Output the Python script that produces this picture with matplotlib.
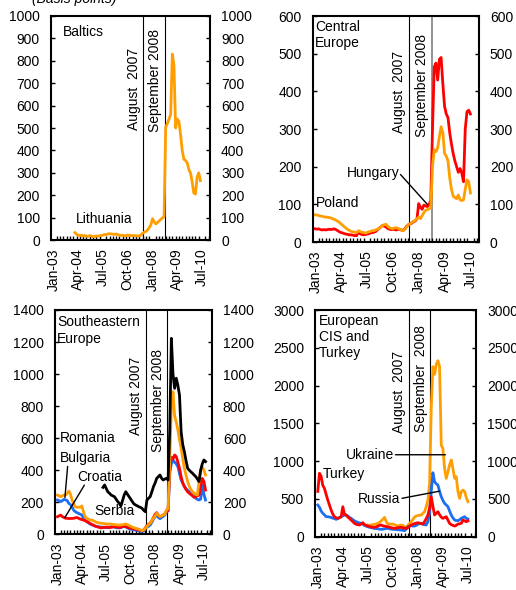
import numpy as np
import pandas as pd
import matplotlib
matplotlib.use("Agg")
import matplotlib.pyplot as plt

plt.rcParams['font.family'] = ['Liberation Sans', 'DejaVu Sans']
plt.rcParams['font.size'] = 10

# --- Sovereign CDS spreads, monthly, basis points ---
month_labels = ['Jan-03', 'Apr-04', 'Jul-05', 'Oct-06', 'Jan-08', 'Apr-09', 'Jul-10']
event_months = ['Aug-07', 'Sep-08']

# Baltics
lithuania_start = 'Feb-04'
lithuania = [33, 25, 22, 20, 22, 18, 20, 17, 16, 20,
             18, 15, 16, 18, 17, 19, 20, 22, 24, 25,
             27, 28, 27, 26, 25, 27, 24, 22, 20, 21,
             19, 20, 22, 21, 19, 20, 20, 18, 19, 18,
             22, 30, 35, 38, 45, 55, 68, 95, 82, 72,
             78, 85, 92, 98, 105, 505, 520, 540, 560, 830,
             780, 500, 540, 530, 470, 400, 360, 355, 345, 315,
             300, 260, 210, 205, 280, 300, 265]

# Central Europe
central_start = 'Jan-03'
hungary = [35, 34, 35, 33, 32, 33, 32, 33, 34, 33,
           34, 35, 33, 30, 27, 25, 24, 22, 21, 20,
           19, 19, 18, 17, 17, 28, 22, 20, 19, 20,
           21, 22, 24, 25, 26, 28, 32, 36, 40, 44,
           42, 40, 36, 34, 33, 34, 33, 32, 34, 33,
           32, 31, 35, 42, 46, 48, 50, 54, 56, 62,
           102, 92, 87, 98, 96, 94, 100, 110, 300, 465,
           475, 430, 485, 490, 420, 360, 340, 330, 290, 260,
           235, 215, 200, 185, 195, 183, 160, 300, 346, 350,
           340]
poland = [72, 72, 70, 69, 68, 67, 66, 66, 65, 64,
          62, 60, 58, 55, 52, 48, 44, 40, 36, 33,
          30, 28, 27, 26, 25, 30, 28, 26, 25, 24,
          25, 27, 28, 30, 30, 32, 34, 36, 40, 44,
          46, 47, 42, 38, 36, 36, 37, 38, 36, 34,
          31, 30, 34, 40, 46, 48, 52, 55, 58, 62,
          66, 62, 70, 78, 84, 86, 88, 90, 200, 245,
          240, 250, 280, 306, 290, 235, 228, 215, 170, 140,
          122, 118, 115, 125, 112, 110, 112, 140, 165, 160,
          130]

# Southeastern Europe
southeast_start = 'Jan-03'
romania = [245, 240, 235, 240, 245, 245, 255, 270, 250, 214,
           190, 172, 168, 170, 168, 177, 140, 110, 100, 95,
           90, 89, 85, 80, 75, 72, 70, 69, 68, 66,
           65, 64, 64, 64, 62, 60, 60, 58, 58, 58,
           60, 62, 64, 60, 55, 50, 45, 41, 38, 35,
           32, 28, 23, 28, 37, 50, 60, 69, 85, 100,
           115, 131, 120, 110, 115, 120, 125, 152, 160, 450,
           800, 890, 740, 702, 651, 590, 537, 470, 412, 370,
           329, 300, 280, 266, 255, 250, 245, 330, 402, 420,
           400, 370]
bulgaria = [214, 210, 204, 210, 218, 215, 210, 193, 185, 170,
            150, 141, 135, 130, 125, 121, 100, 89, 80, 72,
            65, 60, 56, 52, 50, 48, 46, 45, 44, 43,
            42, 42, 45, 48, 46, 44, 42, 40, 40, 42,
            46, 48, 46, 40, 35, 32, 30, 28, 26, 24,
            22, 18, 16, 22, 35, 45, 50, 58, 75, 95,
            110, 120, 105, 98, 105, 112, 120, 141, 145, 380,
            440, 464, 450, 440, 422, 380, 339, 320, 300, 285,
            276, 265, 255, 245, 235, 225, 218, 214, 220, 307,
            250, 214]
croatia = [110, 115, 120, 110, 105, 100, 100, 98, 99, 99,
           100, 103, 105, 100, 95, 92, 89, 85, 80, 75,
           68, 62, 58, 52, 48, 45, 42, 40, 42, 44,
           45, 44, 42, 43, 46, 48, 46, 44, 42, 44,
           50, 52, 48, 44, 40, 38, 36, 34, 32, 30,
           28, 25, 22, 28, 40, 55, 62, 70, 85, 105,
           125, 135, 118, 110, 115, 120, 128, 145, 150, 420,
           480, 470, 495, 485, 450, 411, 360, 320, 297, 280,
           265, 256, 248, 240, 231, 235, 240, 245, 300, 349,
           330, 276]
serbia_start = 'May-05'
serbia = [293, 308, 285, 265, 256, 245, 240, 235, 220, 205,
          193, 177, 210, 245, 266, 250, 235, 220, 204, 190,
          183, 178, 172, 168, 162, 150, 141, 214, 225, 235,
          265, 297, 320, 349, 360, 370, 350, 339, 345, 349,
          339, 650, 1223, 1000, 911, 974, 930, 869, 640, 560,
          515, 460, 412, 400, 390, 381, 370, 360, 345, 329,
          400, 440, 464, 454]

# European CIS and Turkey
cis_start = 'Jan-03'
turkey = [600, 839, 800, 680, 640, 560, 485, 420, 353, 300,
          265, 250, 243, 250, 265, 397, 300, 287, 260, 243,
          220, 200, 177, 165, 160, 155, 170, 186, 160, 150,
          141, 135, 130, 125, 124, 130, 140, 150, 155, 145,
          140, 135, 133, 125, 120, 115, 110, 115, 120, 122,
          124, 118, 112, 110, 120, 140, 155, 165, 175, 180,
          186, 180, 172, 168, 200, 240, 287, 380, 530, 400,
          287, 310, 331, 290, 260, 243, 255, 265, 220, 177,
          160, 150, 141, 150, 168, 172, 177, 221, 210, 199,
          210]
russia = [420, 390, 340, 310, 290, 265, 265, 260, 256, 245,
          240, 230, 240, 255, 265, 275, 287, 287, 275, 255,
          243, 225, 210, 199, 190, 182, 177, 165, 150, 140,
          133, 125, 120, 115, 110, 108, 105, 100, 97, 100,
          105, 108, 110, 105, 100, 98, 97, 95, 92, 90,
          88, 85, 80, 100, 133, 140, 145, 141, 141, 150,
          165, 175, 177, 165, 160, 155, 200, 309, 600, 847,
          728, 700, 684, 600, 530, 480, 441, 420, 397, 340,
          287, 250, 221, 215, 212, 225, 243, 255, 265, 243,
          235]
ukraine_start = 'Jul-05'
ukraine = [155, 150, 155, 160, 165, 170, 177, 190, 210, 230,
           256, 200, 168, 170, 165, 168, 160, 150, 141, 150,
           155, 150, 130, 124, 150, 175, 199, 230, 260, 274,
           280, 285, 287, 310, 331, 400, 485, 700, 1700, 2250,
           2150, 2280, 2330, 2250, 1210, 1170, 900, 772, 860, 950,
           1015, 900, 772, 794, 600, 507, 596, 617, 600, 520,
           463]

ORANGE = '#FF9E00'
RED = '#FF0000'
BLUE = '#1C6EF2'
BLACK = '#000000'


def month_index(label):
    d = pd.to_datetime(label, format='%b-%y')
    return (d.year - 2003) * 12 + d.month - 1


def months(start, values):
    return month_index(start) + np.arange(len(values))


def setup(ax, ymax, ystep, event_text, event_y, sep_color='k'):
    ax.set_xlim(-1.5, 94.8)
    ax.set_ylim(0, ymax)
    ax.set_yticks(np.arange(0, ymax + 1, ystep))
    ax.set_xticks([month_index(l) for l in month_labels])
    ax.set_xticklabels(month_labels, rotation=90)
    ax.set_xticks(np.arange(0, 95, 2), minor=True)
    ax.tick_params(axis='x', which='major', length=0, pad=6)
    ax.tick_params(axis='x', which='minor', direction='in', length=3, width=1)
    ax.tick_params(axis='y', direction='in', length=3, width=1, pad=8,
                   right=True, labelright=True)
    for s in ax.spines.values():
        s.set_linewidth(1.5)
    # crisis markers
    for i, lab in enumerate(event_months):
        x = month_index(lab) - 0.5
        if i == 1 and sep_color != 'k':
            ax.axvline(x, color=sep_color, lw=1.2, zorder=1)
        else:
            ax.axvline(x, color='k', lw=0.8, zorder=1)
        ax.annotate(event_text[i], xy=(x, event_y[i]),
                    xycoords=('data', 'axes fraction'), xytext=(-2, 0),
                    textcoords='offset points', rotation=90,
                    ha='right', va='bottom')


def leader(ax, text, xy, xytext, ha, relpos):
    ax.annotate(text, xy=xy, xytext=xytext, ha=ha, va='center',
                arrowprops=dict(arrowstyle='-', color='k', lw=1,
                                relpos=relpos, patchA=None,
                                shrinkA=1, shrinkB=0))


fig = plt.figure(figsize=(5.16, 5.90), dpi=100)
fig.text(0.062, 1 - 3 / 590, '(Basis points)', style='italic', va='baseline')

# Baltics
ax1 = fig.add_axes([0.0988, 0.5932, 0.3081, 0.3797])
setup(ax1, 1000, 100, ['August  2007', 'September 2008'], [0.49, 0.48])
ax1.plot(months(lithuania_start, lithuania), lithuania, color=ORANGE, lw=2)
ax1.text(5.7, 929, 'Baltics', ha='left', va='center')
ax1.text(13.6, 96, 'Lithuania', ha='left', va='center')

# Central Europe
ax2 = fig.add_axes([0.606, 0.5898, 0.3217, 0.383])
setup(ax2, 600, 100, ['August  2007', 'September 2008'], [0.482, 0.465],
      sep_color='#808080')
ax2.plot(months(central_start, hungary), hungary, color=RED, lw=2)
ax2.plot(months(central_start, poland), poland, color=ORANGE, lw=2)
ax2.text(-0.2, 590, 'Central\nEurope', ha='left', va='top')
ax2.text(0.4, 103, 'Poland', ha='left', va='center')
leader(ax2, 'Hungary', (65, 100), (48.9, 182), 'right', (1, 0.5))

# Southeastern Europe
ax3 = fig.add_axes([0.1066, 0.0944, 0.3037, 0.3802])
setup(ax3, 1400, 200, ['August 2007', 'September 2008'], [0.443, 0.368])
ax3.plot(months(southeast_start, bulgaria), bulgaria, color=BLUE, lw=2)
ax3.plot(months(southeast_start, croatia), croatia, color=RED, lw=2)
ax3.plot(months(southeast_start, romania), romania, color=ORANGE, lw=2)
ax3.plot(months(serbia_start, serbia), serbia, color=BLACK, lw=2)
ax3.text(-0.3, 1366, 'Southeastern\nEurope', ha='left', va='top')
ax3.text(1.6, 604, 'Romania', ha='left', va='center')
ax3.text(22.4, 145, 'Serbia', ha='left', va='center')
leader(ax3, 'Bulgaria', (4.6, 230), (1.6, 476), 'left', (0.15, 0))
leader(ax3, 'Croatia', (4.6, 105), (12.0, 358), 'left', (0.18, 0))

# European CIS and Turkey
ax4 = fig.add_axes([0.611, 0.0903, 0.3114, 0.3842])
setup(ax4, 3000, 500, ['August  2007', 'September  2008'], [0.456, 0.463])
ax4.plot(months(ukraine_start, ukraine), ukraine, color=ORANGE, lw=2)
ax4.plot(months(cis_start, russia), russia, color=BLUE, lw=2)
ax4.plot(months(cis_start, turkey), turkey, color=RED, lw=2)
ax4.text(0.7, 2947, 'European\nCIS and\nTurkey', ha='left', va='top')
ax4.text(2.9, 830, 'Turkey', ha='left', va='center')
leader(ax4, 'Ukraine', (76.5, 1085), (45.7, 1085), 'right', (1, 0.5))
leader(ax4, 'Russia', (73, 603), (49.7, 505), 'right', (1, 0.5))

fig.savefig('out.png', dpi=100)
